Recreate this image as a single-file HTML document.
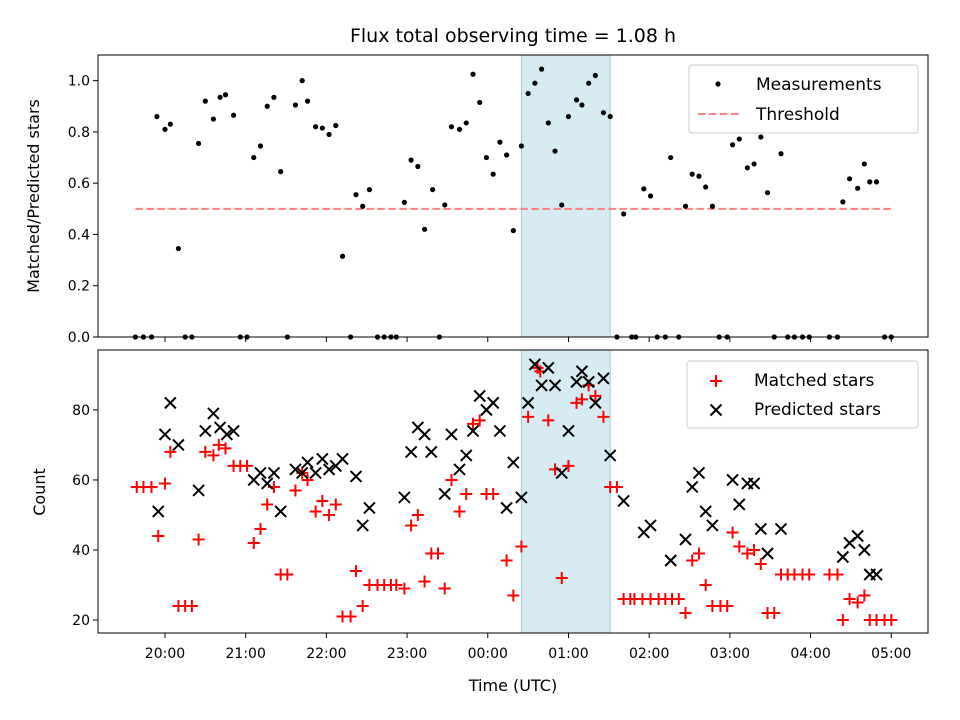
<!DOCTYPE html>
<html><head><meta charset="utf-8"><style>
body{margin:0;background:#fff;}
svg{display:block;font-family:"DejaVu Sans","Liberation Sans",sans-serif;}
</style></head><body>
<svg id="chart" width="960" height="720" viewBox="0 0 960 720">
<text x="513" y="42" font-size="19" text-anchor="middle">Flux total observing time = 1.08 h</text>
<g id="topPanel"></g>
<g id="botPanel"></g>
</svg>
<script>
// times in minutes relative to 20:00 UTC
const tTop=[-22,-16,-10,-6,0,4,10,15,20,25,30,36,41,45,51,56,61,66,71,76,81,86,91,97,102,106,112,117,122,127,132,138,142,147,152,158,163,168,172,178,183,188,193,199,204,208,213,219,224,229,234,239,244,249,254,259,265,270,275,280,285,290,295,300,306,310,315,320,326,331,336,341,347,350,356,361,366,372,376,382,387,392,397,402,407,412,418,422,427,433,438,443,448,453,458,463,468,474,479,494,500,504,509,515,520,524,529,535,540];
const ratio=[0,0,0,.86,.81,.83,.345,0,0,.755,.92,.85,.935,.945,.865,0,0,.70,.745,.90,.935,.645,0,.905,1.0,.92,.82,.815,.79,.825,.315,0,.555,.51,.575,0,0,0,0,.525,.69,.665,.42,.575,0,.515,.82,.81,.835,1.025,.915,.70,.635,.76,.71,.415,.745,.95,.99,1.045,.835,.725,.515,.86,.925,.905,.99,1.02,.875,.86,0,.48,0,0,.578,.55,0,0,.70,0,.51,.635,.627,.585,.51,0,0,.75,.772,.66,.675,.78,.563,0,.715,0,0,0,0,0,0,.527,.617,.58,.675,.605,.605,0,0];
const threshold=0.5;
const tMatched=[-21,-16,-10,-5,0,4,10,15,20,25,30,36,40,45,51,56,61,66,71,76,81,86,91,97,102,106,112,117,122,127,132,138,142,147,152,158,163,168,172,178,183,188,193,198,203,208,213,219,224,229,234,239,244,254,259,265,270,277,279,285,290,295,300,306,310,315,320,326,331,336,341,346,349,355,361,367,372,377,382,387,392,397,402,407,413,418,422,427,433,438,443,448,453,458,463,468,474,479,494,500,504,509,515,520,524,529,535,540];
const matched=[58,58,58,44,59,68,24,24,24,43,68,67,70,69,64,64,64,42,46,53,58,33,33,57,62,60,51,54,50,53,21,21,34,24,30,30,30,30,30,29,47,50,31,39,39,29,60,51,56,76,77,56,56,37,27,41,78,92,91,77,63,32,64,82,83,87,84,78,58,58,26,26,26,26,26,26,26,26,26,22,37,39,30,24,24,24,45,41,39,40,36,22,22,33,33,33,33,33,33,33,20,26,25,27,20,20,20,20];
const tPred=[-5,0,4,10,25,30,36,41,46,51,66,71,76,81,86,97,102,106,112,117,122,127,132,142,147,152,178,183,188,193,198,208,213,219,224,229,234,239,244,249,254,259,265,270,275,280,285,290,295,300,306,310,315,320,326,331,341,356,361,376,387,392,397,402,407,422,427,433,438,443,448,458,504,509,515,520,524,529];
const pred=[51,73,82,70,57,74,79,75,73,74,60,62,59,62,51,63,62,65,62,66,63,64,66,61,47,52,55,68,75,73,68,56,73,63,67,74,84,80,82,74,52,65,55,82,93,87,92,87,62,74,88,91,88,82,89,67,54,45,47,37,43,58,62,51,47,60,53,59,59,46,39,46,38,42,44,40,33,33];
const xTicks=[0,60,120,180,240,300,360,420,480,540];
const xTickLabels=["20:00","21:00","22:00","23:00","00:00","01:00","02:00","03:00","04:00","05:00"];
const topTicks=[0,0.2,0.4,0.6,0.8,1.0];
const botTicks=[20,40,60,80];
const band=[265,331];

const NS="http://www.w3.org/2000/svg";
const L=98,R=928;
const xS=m=>L+(m-(-49.8))/(567.3+49.8)*(R-L);
const yTop=v=>337-(v/1.1)*282;
const yBot=v=>633-(v-16.3)/(97.1-16.3)*283;
function mk(tag,attrs,parent){const e=document.createElementNS(NS,tag);for(const k in attrs)e.setAttribute(k,attrs[k]);parent.appendChild(e);return e;}
const topG=document.getElementById('topPanel'),botG=document.getElementById('botPanel');

function frameAndTicks(g,y0,y1,ticks,yf,fmt,labels){
  let b=mk('rect',{x:xS(band[0]),y:y0,width:xS(band[1])-xS(band[0]),height:y1-y0,fill:'#add8e6','fill-opacity':0.5,stroke:'#9fcbd9','stroke-width':1},g);
  
  
  ticks.forEach(v=>{const y=yf(v);
    mk('line',{x1:L-5,x2:L,y1:y,y2:y,stroke:'#000','stroke-width':1},g);
    const t=mk('text',{x:L-8,y:y+5,'font-size':14,'text-anchor':'end'},g);t.textContent=fmt(v);
    
    
  });
  xTicks.forEach((m,i)=>{const x=xS(m);
    mk('line',{x1:x,x2:x,y1:y1,y2:y1+5,stroke:'#000','stroke-width':1},g);
    if(labels){const t=mk('text',{x:x,y:y1+25,'font-size':14,'text-anchor':'middle'},g);t.textContent=xTickLabels[i];
      
      }
  });
}
frameAndTicks(topG,55,337,topTicks,yTop,v=>v.toFixed(1),false);
frameAndTicks(botG,350,633,botTicks,yBot,v=>String(v),true);

const th=mk('line',{x1:xS(tTop[0]),x2:xS(tTop[tTop.length-1]),y1:yTop(threshold),y2:yTop(threshold),stroke:'#ff8080','stroke-width':2,'stroke-dasharray':'7.5,3.5'},topG);


tTop.forEach((m,i)=>{const c=mk('circle',{cx:xS(m),cy:yTop(ratio[i]),r:2.6,fill:'#000'},topG);
  
  });
function plus(g,x,y){return mk('path',{d:`M${x-6} ${y}H${x+6}M${x} ${y-6}V${y+6}`,stroke:'#f00','stroke-width':2,fill:'none'},g);}
function cross(g,x,y){return mk('path',{d:`M${x-5.5} ${y-5.5}L${x+5.5} ${y+5.5}M${x-5.5} ${y+5.5}L${x+5.5} ${y-5.5}`,stroke:'#000','stroke-width':2,fill:'none'},g);}
tMatched.forEach((m,i)=>{const p=plus(botG,xS(m),yBot(matched[i]));
  
  });
tPred.forEach((m,i)=>{const p=cross(botG,xS(m),yBot(pred[i]));
  
  });

mk('rect',{x:L,y:55,width:R-L,height:282,fill:'none',stroke:'#000','stroke-width':1},topG);
mk('rect',{x:L,y:350,width:R-L,height:283,fill:'none',stroke:'#000','stroke-width':1},botG);

const lg1=mk('g',{},topG);


mk('rect',{x:689,y:65,width:229,height:68,rx:3,fill:'#fff','fill-opacity':0.8,stroke:'#ccc'},lg1);
mk('circle',{cx:718,cy:84,r:2.6,fill:'#000'},lg1);
let t=mk('text',{x:756,y:90,'font-size':17},lg1);t.textContent='Measurements';
mk('line',{x1:698,x2:740,y1:114,y2:114,stroke:'#ff8080','stroke-width':2,'stroke-dasharray':'7.5,3.5'},lg1);
t=mk('text',{x:756,y:120,'font-size':17},lg1);t.textContent='Threshold';
const lg2=mk('g',{},botG);


mk('rect',{x:687,y:361,width:231,height:67,rx:3,fill:'#fff','fill-opacity':0.8,stroke:'#ccc'},lg2);
plus(lg2,716,381);
t=mk('text',{x:754,y:386,'font-size':17},lg2);t.textContent='Matched stars';
cross(lg2,716,410);
t=mk('text',{x:754,y:415,'font-size':17},lg2);t.textContent='Predicted stars';

t=mk('text',{x:0,y:0,'font-size':16,'text-anchor':'middle',transform:'translate(39,196) rotate(-90)'},topG);t.textContent='Matched/Predicted stars';


t=mk('text',{x:0,y:0,'font-size':16,'text-anchor':'middle',transform:'translate(45,492) rotate(-90)'},botG);t.textContent='Count';


t=mk('text',{x:513,y:691,'font-size':16,'text-anchor':'middle'},botG);t.textContent='Time (UTC)';


</script>
</body></html>
